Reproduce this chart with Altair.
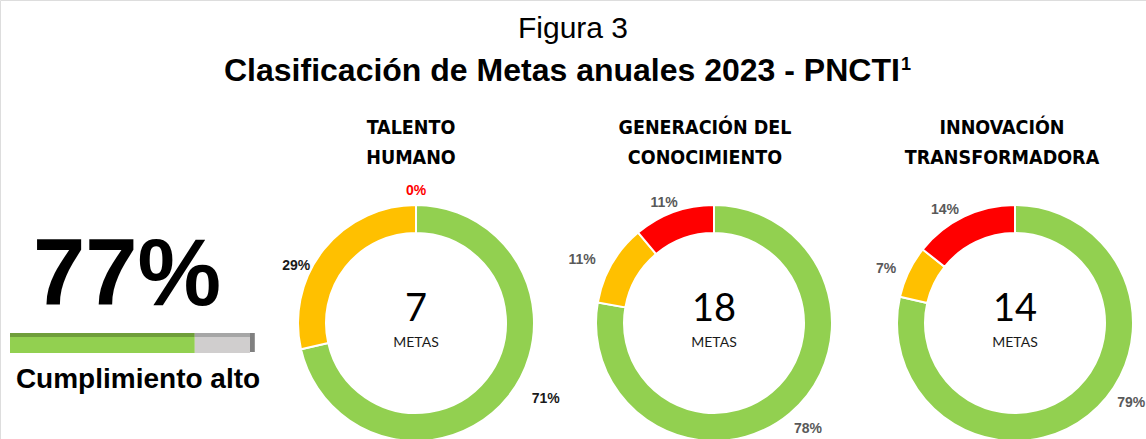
import altair as alt
import pandas as pd

# ---------------- data ----------------
titulo_1 = "Figura 3"
titulo_2 = "Clasificación de Metas anuales 2023 - PNCTI"
superindice = "1"

categorias = ["Alto", "Medio", "Bajo"]
colores = ["#92D050", "#FFC000", "#FF0000"]

encabezado_l1 = ["TALENTO", "GENERACIÓN DEL", "INNOVACIÓN"]
encabezado_l2 = ["HUMANO", "CONOCIMIENTO", "TRANSFORMADORA"]
metas_alto = [5, 14, 11]
metas_medio = [2, 2, 1]
metas_bajo = [0, 2, 2]

cumplimiento = 77
etiqueta_cumplimiento = "Cumplimiento alto"

# ---------------- layout / style ----------------
W, H = 1146, 439
centros_x = [416, 714, 1015]
centro_y = 323
encabezado_x = [411, 705, 1002]
color_etiqueta = ["#1a1a1a", "#595959", "#595959"]
color_etiqueta_bajo = ["#FF0000", "#595959", "#595959"]
# label nudges (dx, dy) per donut, per category (Alto, Medio, Bajo)
ajuste_etiqueta = [
    [(18, -13), (-8, 32), (0, 11)],
    [(2, -4), (-8, 8), (-1, 14)],
    [(27, -32), (0, 8), (-8, 16)],
]
ARIAL = "Liberation Sans"
NARROW = "'Liberation Sans Narrow', 'DejaVu Sans Condensed', 'Roboto Condensed', 'Liberation Sans'"
CALIBRI = "Lato"

color_scale = alt.Scale(domain=categorias, range=colores)


def texto(valor, x, y, **kw):
    df = pd.DataFrame({"t": [valor]})
    return alt.Chart(df).mark_text(baseline="alphabetic", **kw).encode(
        text="t:N", x=alt.value(x), y=alt.value(y)
    )


capas = []

# Title
capas.append(texto(titulo_1, W / 2, 38, font=ARIAL, fontSize=30, color="#000000", align="center"))
capas.append(texto(titulo_2, 224, 81, font=ARIAL, fontSize=32, fontWeight="bold", color="#000000", align="left"))
capas.append(texto(superindice, 901, 70, font=ARIAL, fontSize=18, fontWeight="bold", color="#000000", align="left"))

# Donuts
for i in range(3):
    cx = centros_x[i]
    df = pd.DataFrame({
        "categoria": categorias,
        "orden": [0, 1, 2],
        "metas": [metas_alto[i], metas_medio[i], metas_bajo[i]],
    })
    base = alt.Chart(df)
    arco = base.mark_arc(outerRadius=118, innerRadius=90, stroke="white", strokeWidth=2).encode(
        theta=alt.Theta("metas:Q", stack="normalize"),
        order=alt.Order("orden:Q"),
        color=alt.Color("categoria:N", scale=color_scale, legend=None),
        x=alt.value(cx),
        y=alt.value(centro_y),
    )
    capas.append(arco)
    for j, cat in enumerate(categorias):
        dx, dy = ajuste_etiqueta[i][j]
        col = color_etiqueta_bajo[i] if cat == "Bajo" else color_etiqueta[i]
        etiqueta = (
            base.transform_joinaggregate(total="sum(metas)")
            .transform_calculate(pct="round(datum.metas / datum.total * 100) + '%'")
            .transform_stack(stack="metas", groupby=[], as_=["s0", "s1"],
                             sort=[alt.SortField("orden", order="ascending")], offset="normalize")
            .transform_calculate(medio="(datum.s0 + datum.s1) / 2")
            .transform_filter(alt.datum.categoria == cat)
            .mark_text(radius=143, font=ARIAL, fontSize=14, fontWeight="bold", color=col, dx=dx, dy=dy)
            .encode(
                theta=alt.Theta("medio:Q", stack=None, scale=alt.Scale(domain=[0, 1])),
                text="pct:N",
                x=alt.value(cx),
                y=alt.value(centro_y),
            )
        )
        capas.append(etiqueta)
    total = (
        base.transform_aggregate(total="sum(metas)")
        .mark_text(font=CALIBRI, fontSize=38, color="#000000", baseline="alphabetic")
        .encode(text="total:Q", x=alt.value(cx), y=alt.value(centro_y - 2))
    )
    metas_txt = texto("METAS", cx, centro_y + 24, font=CALIBRI, fontSize=14, color="#1a1a1a", align="center")
    h1 = texto(encabezado_l1[i], encabezado_x[i], 134, font=NARROW, fontSize=19.5, fontWeight="bold", color="#000000", align="center")
    h2 = texto(encabezado_l2[i], encabezado_x[i], 164, font=NARROW, fontSize=19.5, fontWeight="bold", color="#000000", align="center")
    capas += [total, metas_txt, h1, h2]

# Left panel: big percentage
df_c = pd.DataFrame({"v": [cumplimiento]})
capas.append(
    alt.Chart(df_c).transform_calculate(t="datum.v + '%'")
    .mark_text(font=ARIAL, fontSize=94, fontWeight="bold", color="#000000", align="center", baseline="alphabetic")
    .encode(text="t:N", x=alt.value(127), y=alt.value(305))
)

# progress bar
df_bar = pd.DataFrame({
    "segmento": ["cumplido", "pendiente"],
    "inicio": [0, cumplimiento],
    "fin": [cumplimiento, 100],
})
xsc = alt.Scale(domain=[0, 100], range=[10, 250])
barra = alt.Chart(df_bar).mark_rect().encode(
    x=alt.X("inicio:Q", scale=xsc, axis=None),
    x2="fin:Q",
    y=alt.value(337), y2=alt.value(353),
    color=alt.condition("datum.segmento == 'cumplido'", alt.value("#92D050"), alt.value("#D0CECE")),
)
barra_top = alt.Chart(df_bar).mark_rect().encode(
    x=alt.X("inicio:Q", scale=xsc, axis=None),
    x2="fin:Q",
    y=alt.value(333), y2=alt.value(337),
    color=alt.condition("datum.segmento == 'cumplido'", alt.value("#6F9E3A"), alt.value("#A6A6A6")),
)
df_borde = pd.DataFrame({"inicio": [100], "fin": [102]})
borde = alt.Chart(df_borde).mark_rect(color="#808080").encode(
    x=alt.X("inicio:Q", scale=xsc, axis=None),
    x2="fin:Q",
    y=alt.value(333), y2=alt.value(352),
)
capas += [barra, barra_top, borde]
capas.append(texto(etiqueta_cumplimiento, 138, 388, font=ARIAL, fontSize=28, fontWeight="bold", color="#000000", align="center"))

chart = (
    alt.layer(*capas)
    .properties(width=W, height=H, autosize=alt.AutoSizeParams(type="none"), padding=0)
    .configure_view(stroke=None)
    .configure(background="white")
)

chart.save("out.html", embed_options={"renderer": "svg", "actions": False})
